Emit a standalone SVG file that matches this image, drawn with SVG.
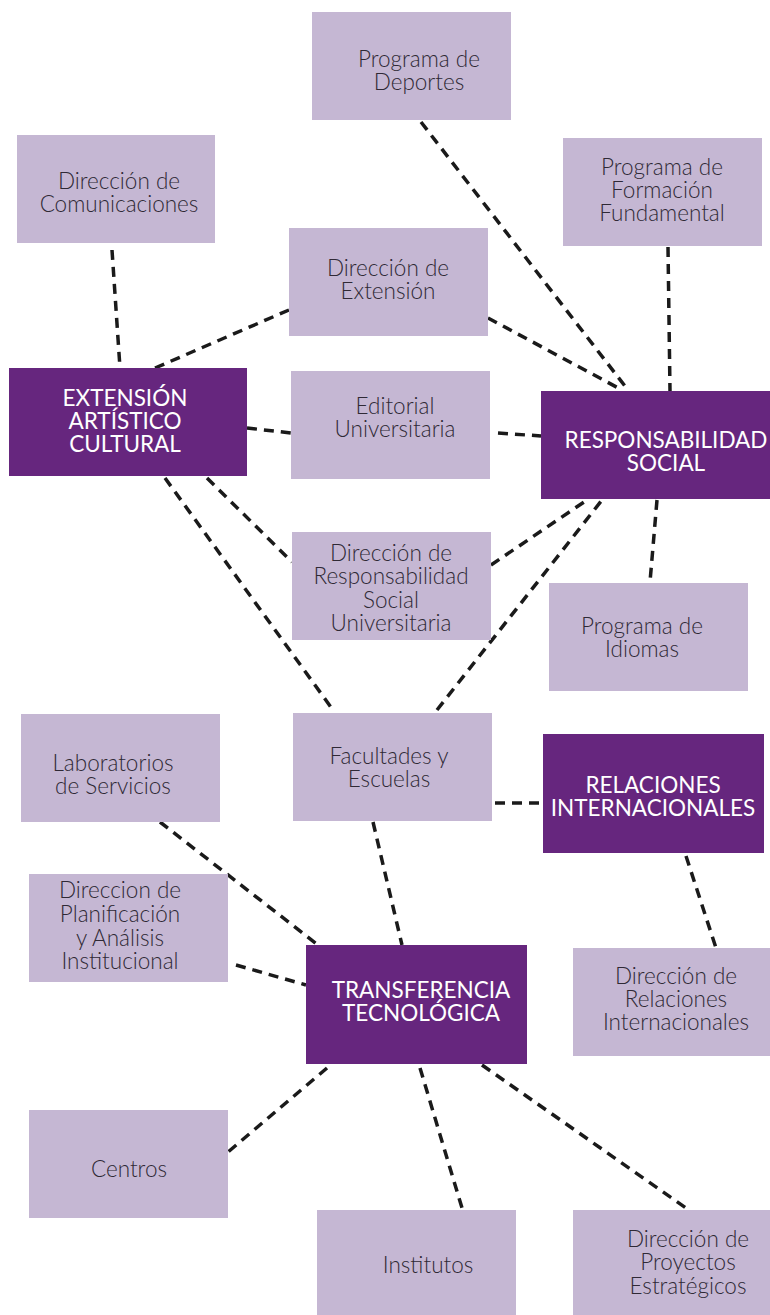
<svg xmlns="http://www.w3.org/2000/svg" width="770" height="1315" viewBox="0 0 770 1315">
<style>
.l{fill:#c5b7d3}
.d{fill:#66267e}
.t{font-family:Lato,"Liberation Sans",sans-serif;font-size:22.5px;font-weight:300;fill:#2f2935;text-anchor:middle}
.w{font-family:Lato,"Liberation Sans",sans-serif;font-size:22.5px;font-weight:400;fill:#ffffff;text-anchor:middle}
.c line{stroke:#1a1a1a;stroke-width:3.5;stroke-dasharray:10 7;fill:none}
</style>
<rect width="770" height="1315" fill="#ffffff"/>
<g class="c" id="connectors">
<line x1="421" y1="122" x2="628" y2="390"/>
<line x1="668" y1="247" x2="670" y2="391"/>
<line x1="112" y1="250" x2="120" y2="368"/>
<line x1="289" y1="310" x2="155" y2="368"/>
<line x1="488" y1="318" x2="622" y2="390"/>
<line x1="247" y1="428" x2="291" y2="433"/>
<line x1="498" y1="433" x2="541" y2="436"/>
<line x1="207" y1="478" x2="292" y2="562"/>
<line x1="165" y1="478" x2="333" y2="710"/>
<line x1="491" y1="565" x2="587" y2="500"/>
<line x1="437" y1="710" x2="602" y2="500"/>
<line x1="657" y1="500" x2="650" y2="582"/>
<line x1="495" y1="803" x2="543" y2="803"/>
<line x1="686" y1="856" x2="716" y2="948"/>
<line x1="160" y1="822" x2="318" y2="945"/>
<line x1="373" y1="822" x2="402" y2="945"/>
<line x1="236" y1="965" x2="306" y2="985"/>
<line x1="327" y1="1068" x2="228" y2="1152"/>
<line x1="420" y1="1068" x2="462" y2="1208"/>
<line x1="482" y1="1065" x2="686" y2="1208"/>
</g>
<g id="deportes"><rect class="l" x="312" y="12" width="199" height="108"/><text class="t" x="419" y="67">Programa de</text><text class="t" x="419" y="90">Deportes</text></g>
<g id="comunicaciones"><rect class="l" x="17" y="135" width="198" height="108"/><text class="t" x="119" y="189">Dirección de</text><text class="t" x="119" y="212">Comunicaciones</text></g>
<g id="formacion"><rect class="l" x="563" y="138" width="199" height="108"/><text class="t" x="662" y="175">Programa de</text><text class="t" x="662" y="198">Formación</text><text class="t" x="662" y="221">Fundamental</text></g>
<g id="extension"><rect class="l" x="289" y="228" width="199" height="108"/><text class="t" x="388" y="276">Dirección de</text><text class="t" x="388" y="299">Extensión</text></g>
<g id="eac"><rect class="d" x="9" y="368" width="238" height="108"/><text class="w" x="125" y="406">EXTENSIÓN</text><text class="w" x="125" y="429">ARTÍSTICO</text><text class="w" x="125" y="452">CULTURAL</text></g>
<g id="editorial"><rect class="l" x="291" y="371" width="199" height="108"/><text class="t" x="395" y="414">Editorial</text><text class="t" x="395" y="437">Universitaria</text></g>
<g id="rs"><rect class="d" x="541" y="391" width="229" height="108"/><text class="w" x="666" y="448">RESPONSABILIDAD</text><text class="w" x="666" y="471">SOCIAL</text></g>
<g id="rsu"><rect class="l" x="292" y="532" width="199" height="108"/><text class="t" x="391" y="561">Dirección de</text><text class="t" x="391" y="584">Responsabilidad</text><text class="t" x="391" y="608">Social</text><text class="t" x="391" y="631">Universitaria</text></g>
<g id="idiomas"><rect class="l" x="549" y="583" width="199" height="108"/><text class="t" x="642" y="634">Programa de</text><text class="t" x="642" y="657">Idiomas</text></g>
<g id="labs"><rect class="l" x="21" y="714" width="199" height="108"/><text class="t" x="113" y="771">Laboratorios</text><text class="t" x="113" y="794">de Servicios</text></g>
<g id="facultades"><rect class="l" x="293" y="713" width="199" height="108"/><text class="t" x="389" y="764">Facultades y</text><text class="t" x="389" y="787">Escuelas</text></g>
<g id="ri"><rect class="d" x="543" y="734" width="221" height="119"/><text class="w" x="653" y="793">RELACIONES</text><text class="w" x="653" y="816">INTERNACIONALES</text></g>
<g id="planificacion"><rect class="l" x="29" y="874" width="199" height="108"/><text class="t" x="120" y="898">Direccion de</text><text class="t" x="120" y="922">Planificación</text><text class="t" x="120" y="946">y Análisis</text><text class="t" x="120" y="969">Institucional</text></g>
<g id="tt"><rect class="d" x="306" y="945" width="221" height="119"/><text class="w" x="421" y="998">TRANSFERENCIA</text><text class="w" x="421" y="1021">TECNOLÓGICA</text></g>
<g id="dri"><rect class="l" x="573" y="948" width="197" height="108"/><text class="t" x="676" y="984">Dirección de</text><text class="t" x="676" y="1007">Relaciones</text><text class="t" x="676" y="1030">Internacionales</text></g>
<g id="centros"><rect class="l" x="29" y="1110" width="199" height="108"/><text class="t" x="129" y="1177">Centros</text></g>
<g id="institutos"><rect class="l" x="317" y="1210" width="199" height="105"/><text class="t" x="428" y="1273">Institutos</text></g>
<g id="dpe"><rect class="l" x="573" y="1210" width="197" height="105"/><text class="t" x="688" y="1247">Dirección de</text><text class="t" x="688" y="1270">Proyectos</text><text class="t" x="688" y="1294">Estratégicos</text></g>
</svg>
